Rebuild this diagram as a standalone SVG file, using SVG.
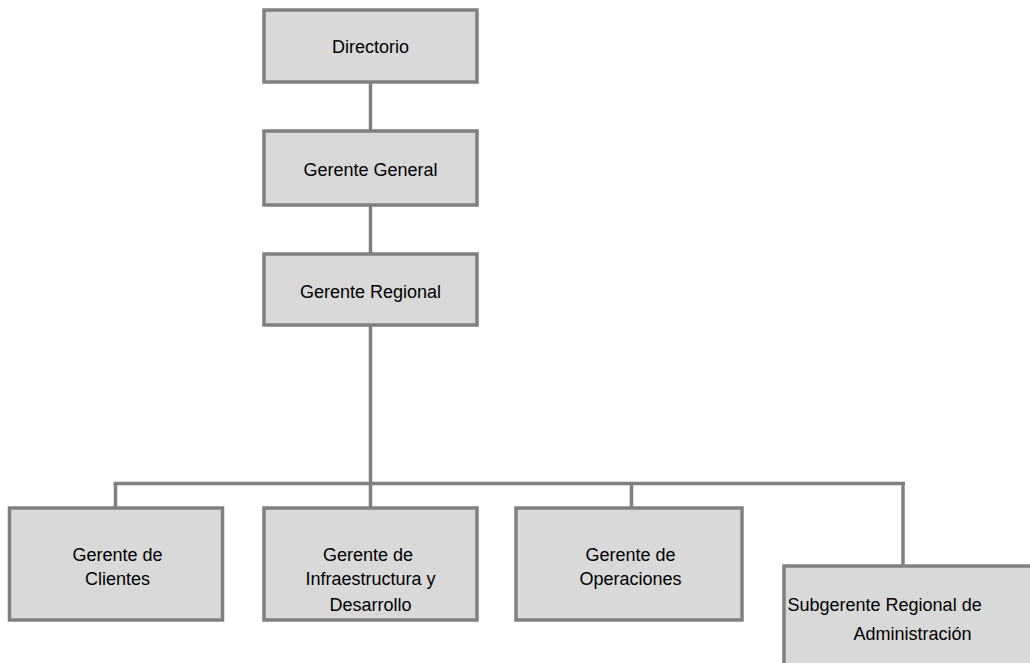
<svg xmlns="http://www.w3.org/2000/svg" width="1030" height="663" viewBox="0 0 1030 663">
<style>
.box{fill:#d9d9d9;stroke:#808080;stroke-width:3.5}
.c{fill:none;stroke:#808080;stroke-width:3.5}
text{font-family:"Liberation Sans",Arial,sans-serif;font-size:18px;fill:#000}
.m{text-anchor:middle}
</style>
<rect width="1030" height="663" fill="#ffffff"/>
<g id="connectors">
<line class="c" x1="370.5" y1="82" x2="370.5" y2="131"/>
<line class="c" x1="370.5" y1="205" x2="370.5" y2="254"/>
<line class="c" x1="370.5" y1="325" x2="370.5" y2="508"/>
<line class="c" x1="113.5" y1="483.5" x2="905" y2="483.5"/>
<line class="c" x1="115.5" y1="483.5" x2="115.5" y2="508"/>
<line class="c" x1="631.5" y1="483.5" x2="631.5" y2="508"/>
<line class="c" x1="903" y1="483.5" x2="903" y2="566"/>
</g>
<g id="directorio">
<rect class="box" x="264" y="10" width="213" height="72"/>
<text class="m" x="370.5" y="52.5">Directorio</text>
</g>
<g id="gerente-general">
<rect class="box" x="264" y="131" width="213" height="74"/>
<text class="m" x="370.5" y="175.5">Gerente General</text>
</g>
<g id="gerente-regional">
<rect class="box" x="264" y="254" width="213" height="71"/>
<text class="m" x="370.5" y="297.5">Gerente Regional</text>
</g>
<g id="gerente-clientes">
<rect class="box" x="9.5" y="508" width="213" height="112"/>
<text class="m" x="117.5" y="560.5">Gerente de</text>
<text class="m" x="117.5" y="585">Clientes</text>
</g>
<g id="gerente-infraestructura">
<rect class="box" x="264" y="508" width="213" height="112"/>
<text class="m" x="368" y="560.5">Gerente de</text>
<text class="m" x="370.5" y="585">Infraestructura y</text>
<text class="m" x="370.5" y="610.5">Desarrollo</text>
</g>
<g id="gerente-operaciones">
<rect class="box" x="516" y="508" width="226" height="112"/>
<text class="m" x="630.5" y="560.5">Gerente de</text>
<text class="m" x="630.5" y="585">Operaciones</text>
</g>
<g id="subgerente-administracion">
<rect class="box" x="784" y="566" width="260" height="110"/>
<text x="787.5" y="610.5">Subgerente Regional de</text>
<text x="853.5" y="640">Administración</text>
</g>
</svg>
